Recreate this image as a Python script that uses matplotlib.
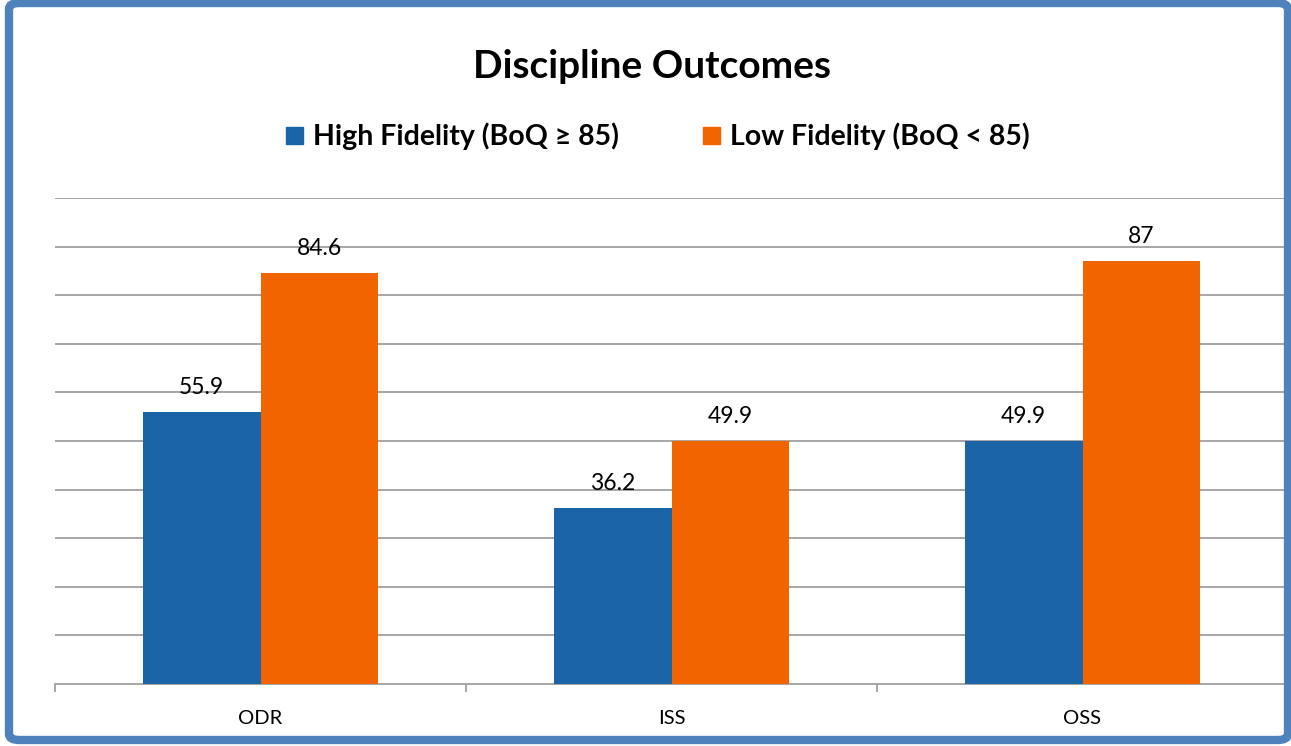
import matplotlib
matplotlib.use("Agg")
import matplotlib.pyplot as plt
from matplotlib.patches import FancyBboxPatch, Rectangle
import numpy as np

categories = ["ODR", "ISS", "OSS"]
high_fidelity = [55.9, 36.2, 49.9]
low_fidelity = [84.6, 49.9, 87]
series_names = ["High Fidelity (BoQ \u2265 85)", "Low Fidelity (BoQ < 85)"]
title = "Discipline Outcomes"

BLUE = "#1B64A8"
ORANGE = "#F26400"
GRID = "#A6A6A6"
BORDER = "#4F81BD"
FONT = "Lato"

W, H = 1291, 746
fig = plt.figure(figsize=(W / 100, H / 100), dpi=100)
fig.patch.set_facecolor("white")

ax = fig.add_axes([55 / W, 1 - 684 / H, (1288 - 55) / W, (684 - 198) / H])
x = np.arange(len(categories))
bw = 0.287
b1 = ax.bar(x - bw / 2, high_fidelity, bw, color=BLUE, zorder=3)
b2 = ax.bar(x + bw / 2, low_fidelity, bw, color=ORANGE, zorder=3)

for bars, vals in ((b1, high_fidelity), (b2, low_fidelity)):
    for r, v in zip(bars, vals):
        ax.annotate(f"{v:g}", (r.get_x() + r.get_width() / 2, v),
                    xytext=(0, 14), textcoords="offset pixels",
                    ha="center", va="bottom", fontsize=16.5, family=FONT, color="black")

ax.set_xlim(-0.5, len(categories) - 0.5)
ax.set_ylim(0, 100)
ax.set_yticks(np.arange(10, 101, 10))
ax.yaxis.grid(True, color=GRID, linewidth=1.4, zorder=0)
ax.tick_params(axis="y", length=0, labelleft=False)
for s in ("top", "right", "left"):
    ax.spines[s].set_visible(False)
ax.spines["bottom"].set_color(GRID)
ax.spines["bottom"].set_linewidth(1.4)
ax.set_xticks(x)
ax.set_xticklabels(categories, fontsize=14.5, family=FONT)
ax.tick_params(axis="x", length=0, pad=19)
ax.set_xticks(np.arange(-0.5, len(categories), 1.0), minor=True)
ax.tick_params(axis="x", which="minor", length=6, width=1.4, color=GRID)
ax.set_axisbelow(True)

fig.text(652 / W, 1 - 67 / H, title, ha="center", va="center",
         fontsize=28, fontweight="bold", family=FONT)

# legend
leg_y = 1 - 136 / H
for i, (name, col, sx) in enumerate(zip(series_names, [BLUE, ORANGE], [286, 703])):
    fig.patches.append(Rectangle((sx / W, 1 - 144 / H), 17 / W, 17 / H,
                                 transform=fig.transFigure, color=col, zorder=5))
    fig.text((sx + 27) / W, leg_y, name, ha="left", va="center",
             fontsize=20.5, fontweight="bold", family=FONT)

border = FancyBboxPatch((9 / W, 6 / H), (1288 - 9) / W, (743 - 6) / H,
                        boxstyle="round,pad=0,rounding_size=0.008",
                        transform=fig.transFigure, fill=False,
                        edgecolor=BORDER, linewidth=6, zorder=10)
fig.patches.append(border)

fig.savefig("out.png", dpi=100, facecolor="white")
